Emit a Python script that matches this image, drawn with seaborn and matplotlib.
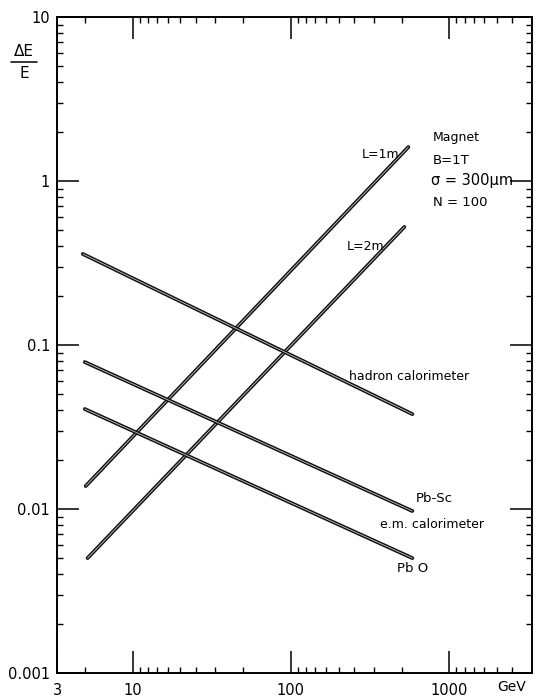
import numpy as np
import pandas as pd
import matplotlib
matplotlib.use("Agg")
import matplotlib.pyplot as plt
import matplotlib.patheffects as pe
from matplotlib.ticker import FixedLocator, NullFormatter
from matplotlib.lines import Line2D
import seaborn as sns

# ---- data ----
series_names = ["hadron calorimeter", "Pb-Sc", "PbO", "L=1m", "L=2m"]
energy_start = [4.85, 4.99, 4.99, 5.06, 5.2]      # GeV
energy_end = [585, 585, 585, 552, 521]            # GeV
res_start = [0.359, 0.0787, 0.0407, 0.0138, 0.00502]
res_end = [0.0379, 0.00972, 0.00502, 1.61, 0.525]

x_major = [10 / 3, 10, 100, 1000]
x_major_labels = ["3", "10", "100", "1000"]
y_major = [0.001, 0.01, 0.1, 1, 10]
y_major_labels = ["0.001", "0.01", "0.1", "1", "10"]

rows = []
for n, e0, e1, r0, r1 in zip(series_names, energy_start, energy_end, res_start, res_end):
    rows.append({"series": n, "E": e0, "res": r0})
    rows.append({"series": n, "E": e1, "res": r1})
df = pd.DataFrame(rows)

sns.set_style("ticks")
plt.rcParams["font.family"] = ["DejaVu Sans"]
plt.rcParams["text.color"] = "black"
plt.rcParams["xtick.color"] = "black"
plt.rcParams["ytick.color"] = "black"
plt.rcParams["xtick.labelcolor"] = "black"
plt.rcParams["ytick.labelcolor"] = "black"

W, H = 536, 699
fig = plt.figure(figsize=(W / 100, H / 100), dpi=100)
left, right, top, bottom = 57, 532, 17, 673
ax = fig.add_axes([left / W, 1 - bottom / H, (right - left) / W, (bottom - top) / H])

sns.lineplot(data=df, x="E", y="res", units="series", estimator=None,
             color="#c8c8c8", lw=0.6, ax=ax, legend=False,
             path_effects=[pe.Stroke(linewidth=2.7, foreground="#111111"), pe.Normal()])

ax.set_xscale("log")
ax.set_yscale("log")
ax.set_xlim(10 / 3, 10000 / 3)
ax.set_ylim(0.001, 10)

# x minor ticks (drawn mirrored within each decade, as in the reference)
xminor = []
for d in [1, 10, 100, 1000]:
    for k in range(2, 10):
        v = d * 10 / k
        if 10 / 3 < v < 10000 / 3:
            xminor.append(v)
yminor = [d * k for d in [0.001, 0.01, 0.1, 1] for k in range(2, 10)]

ax.xaxis.set_major_locator(FixedLocator(x_major))
ax.set_xticklabels(x_major_labels)
ax.xaxis.set_minor_locator(FixedLocator(xminor))
ax.xaxis.set_minor_formatter(NullFormatter())
ax.yaxis.set_major_locator(FixedLocator(y_major))
ax.set_yticklabels(y_major_labels)
ax.yaxis.set_minor_locator(FixedLocator(yminor))
ax.yaxis.set_minor_formatter(NullFormatter())

ax.tick_params(which="both", direction="in", top=True, right=True, color="black")
ax.tick_params(which="major", length=16, width=1.1, labelsize=10.5, pad=5)
ax.tick_params(which="minor", length=4.5, width=1.0)
ax.tick_params(axis="x", which="major", pad=7)
for s in ax.spines.values():
    s.set_linewidth(1.4)
    s.set_color("black")
ax.set_xlabel("")
ax.set_ylabel("")

fs = 9
def px(x, y):
    return (x / W, 1 - y / H)

# y label: ΔE / E
fig.text(*px(24, 52), "ΔE", fontsize=11, ha="center", va="center")
fig.add_artist(Line2D([11 / W, 37 / W], [1 - 62 / H, 1 - 62 / H], color="black", lw=1.1))
fig.text(*px(24, 73), "E", fontsize=11, ha="center", va="center")
fig.text(*px(512, 687), "GeV", fontsize=10, ha="center", va="center")

# annotations
fig.text(*px(433, 137), "Magnet", fontsize=fs, ha="left", va="center")
fig.text(*px(433, 160), "B=1T", fontsize=fs + 0.5, ha="left", va="center")
fig.text(*px(431, 181), "σ = 300μm", fontsize=fs + 1.5, ha="left", va="center")
fig.text(*px(433, 202), "N = 100", fontsize=fs + 0.5, ha="left", va="center")
fig.text(*px(399, 154), "L=1m", fontsize=fs, ha="right", va="center")
fig.text(*px(384, 247), "L=2m", fontsize=fs, ha="right", va="center")
fig.text(*px(409, 376), "hadron calorimeter", fontsize=fs, ha="center", va="center")
fig.text(*px(434, 498), "Pb-Sc", fontsize=fs + 0.5, ha="center", va="center")
fig.text(*px(432, 524), "e.m. calorimeter", fontsize=fs, ha="center", va="center")
fig.text(*px(413, 568), "Pb O", fontsize=fs + 0.5, ha="center", va="center")

fig.savefig("out.png", dpi=100)
